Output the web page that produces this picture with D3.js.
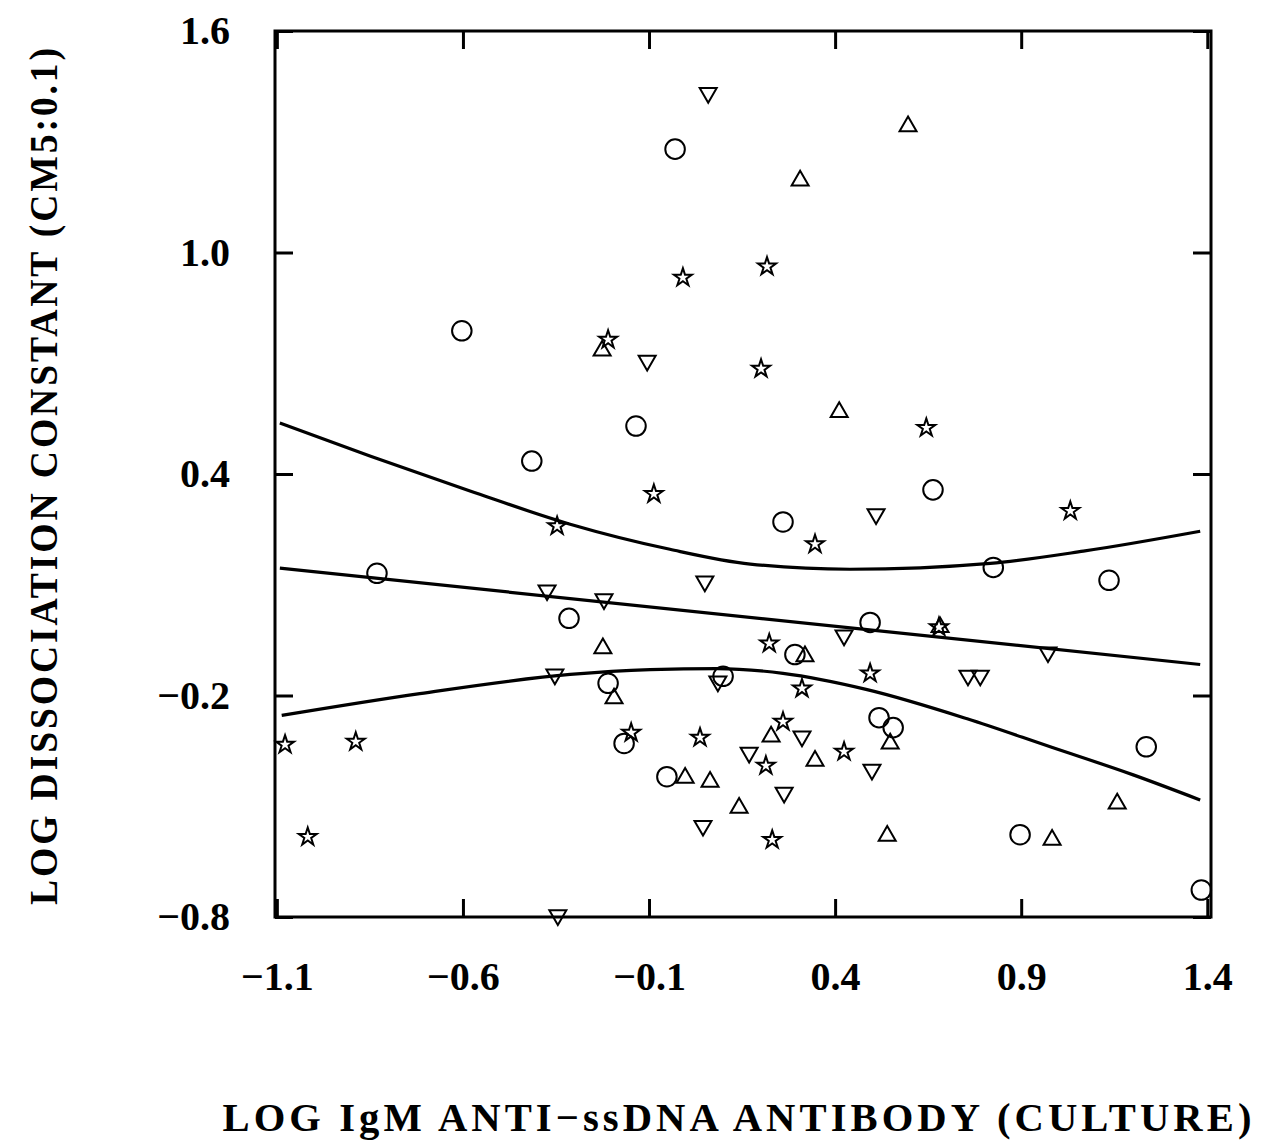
<!DOCTYPE html>
<html>
<head>
<meta charset="utf-8">
<script src="https://cdn.jsdelivr.net/npm/d3@7"></script>
<style>
  html, body { margin: 0; padding: 0; background: #fff; }
  text { font-family: "Liberation Serif", "Times New Roman", serif; font-weight: bold; fill: #000; }
</style>
</head>
<body>
<svg id="chart" width="1269" height="1140"></svg>
<script>
// ---- tick labels ----
const xTicks = [-1.1, -0.6, -0.1, 0.4, 0.9, 1.4];
const yTicks = [-0.8, -0.2, 0.4, 1.0, 1.6];
const xTitle = "LOG IgM ANTI\u2212ssDNA ANTIBODY (CULTURE)";
const yTitle = "LOG DISSOCIATION CONSTANT (CM5:0.1)";

// ---- scatter series: [x, y] ----
const circles = [
  [-0.030, 1.280], [-0.603, 0.788], [-0.135, 0.530], [-0.415, 0.435], [0.663, 0.357],
  [0.260, 0.270], [-0.831, 0.131], [0.825, 0.147], [1.136, 0.112], [-0.315, 0.009],
  [0.494, -0.002], [0.292, -0.089], [-0.210, -0.167], [0.099, -0.148], [-0.167, -0.330],
  [0.518, -0.260], [0.556, -0.287], [-0.052, -0.420], [1.236, -0.339], [0.897, -0.577],
  [1.384, -0.727]
];
const upTriangles = [
  [0.596, 1.342], [0.306, 1.195], [-0.226, 0.734], [0.411, 0.568], [-0.224, -0.072],
  [-0.194, -0.208], [0.319, -0.094], [0.682, -0.015], [0.228, -0.311], [-0.003, -0.423],
  [0.064, -0.434], [0.142, -0.504], [0.346, -0.377], [0.548, -0.330], [1.158, -0.493],
  [0.540, -0.580], [0.983, -0.591]
];
const downTriangles = [
  [0.059, 1.432], [-0.105, 0.707], [0.510, 0.291], [-0.374, 0.085], [-0.221, 0.061],
  [0.050, 0.109], [-0.353, -0.143], [0.424, -0.037], [0.085, -0.162], [0.972, -0.083],
  [0.757, -0.146], [0.790, -0.146], [0.169, -0.355], [0.311, -0.311], [0.263, -0.463],
  [0.045, -0.553], [0.499, -0.401], [-0.345, -0.795]
];
const stars = [
  [-0.009, 0.932], [0.217, 0.962], [-0.210, 0.764], [0.201, 0.685], [0.645, 0.525],
  [-0.087, 0.346], [1.032, 0.300], [-0.347, 0.259], [0.346, 0.210], [0.679, -0.015],
  [0.223, -0.059], [0.494, -0.140], [0.311, -0.181], [-0.148, -0.301], [0.037, -0.314],
  [0.260, -0.271], [0.214, -0.390], [0.424, -0.352], [0.231, -0.591], [-1.078, -0.333],
  [-0.888, -0.325], [-1.017, -0.583]
];

// ---- regression line and confidence band ----
const fitLine = [[-1.092, 0.145], [1.381, -0.116]];
const upperBand = [
  [-1.092, 0.538], [-0.850, 0.449], [-0.581, 0.354], [-0.312, 0.264], [-0.044, 0.196],
  [0.172, 0.156], [0.440, 0.142], [0.817, 0.158], [1.067, 0.191], [1.381, 0.245]
];
const lowerBand = [
  [-1.087, -0.254], [-0.716, -0.195], [-0.312, -0.143], [-0.097, -0.130], [0.083, -0.127],
  [0.260, -0.140], [0.486, -0.184], [0.755, -0.263], [0.978, -0.339], [1.201, -0.415],
  [1.381, -0.483]
];

// ---- drawing ----
const svg = d3.select("#chart");
const pLeft = 275, pRight = 1211, pTop = 31, pBottom = 917;
const x = d3.scaleLinear().domain([-1.105, 1.41]).range([pLeft, pRight]);
const y = d3.scaleLinear().domain([-0.8, 1.6]).range([pBottom, pTop]);
const fmt = d => d3.format(".1f")(d).replace("-", "\u2212");
const tickLen = 18;

function styleAxis(g) {
  g.select(".domain").remove();
  g.selectAll(".tick line").attr("stroke", "#000").attr("stroke-width", 3);
  g.selectAll(".tick text").style("font-size", "40px").attr("fill", "#000");
}

svg.append("g").attr("transform", `translate(0,${pBottom})`)
  .call(d3.axisBottom(x).tickValues(xTicks).tickSize(-tickLen).tickPadding(45).tickFormat(fmt))
  .call(styleAxis);
svg.append("g").attr("transform", `translate(0,${pTop})`)
  .call(d3.axisTop(x).tickValues(xTicks).tickSize(-tickLen).tickFormat(""))
  .call(styleAxis);
svg.append("g").attr("transform", `translate(${pLeft},0)`)
  .call(d3.axisLeft(y).tickValues(yTicks).tickSize(-tickLen).tickPadding(45).tickFormat(fmt))
  .call(styleAxis);
svg.append("g").attr("transform", `translate(${pRight},0)`)
  .call(d3.axisRight(y).tickValues(yTicks).tickSize(-tickLen).tickFormat(""))
  .call(styleAxis);

// frame
svg.append("rect")
  .attr("x", pLeft).attr("y", pTop)
  .attr("width", pRight - pLeft).attr("height", pBottom - pTop)
  .attr("fill", "none").attr("stroke", "#000").attr("stroke-width", 3);

// curves
const line = d3.line().x(d => x(d[0])).y(d => y(d[1])).curve(d3.curveMonotoneX);
[fitLine, upperBand, lowerBand].forEach(data => {
  svg.append("path").datum(data).attr("d", line)
    .attr("fill", "none").attr("stroke", "#000").attr("stroke-width", 3.2);
});

// markers
function drawSymbols(data, type, size, rotate) {
  const sym = d3.symbol().type(type).size(size);
  svg.append("g").selectAll("path").data(data).join("path")
    .attr("d", sym)
    .attr("transform", d => `translate(${x(d[0])},${y(d[1])})` + (rotate ? " rotate(180)" : ""))
    .attr("fill", "none")
    .attr("stroke", "#000").attr("stroke-width", 2);
}
drawSymbols(circles, d3.symbolCircle, 300, false);
drawSymbols(upTriangles, d3.symbolTriangle, 125, false);
drawSymbols(downTriangles, d3.symbolTriangle, 125, true);
drawSymbols(stars, d3.symbolStar, 100, false);

// axis titles
svg.append("text")
  .attr("x", (pLeft + pRight) / 2 - 4).attr("y", 1131)
  .attr("text-anchor", "middle")
  .attr("textLength", 1033).attr("lengthAdjust", "spacingAndGlyphs")
  .style("font-size", "40px").style("letter-spacing", "4px")
  .text(xTitle);
svg.append("text")
  .attr("transform", "translate(57,475) rotate(-90)")
  .attr("text-anchor", "middle")
  .attr("textLength", 860).attr("lengthAdjust", "spacingAndGlyphs")
  .style("font-size", "39px").style("letter-spacing", "3px")
  .text(yTitle);
</script>
</body>
</html>
